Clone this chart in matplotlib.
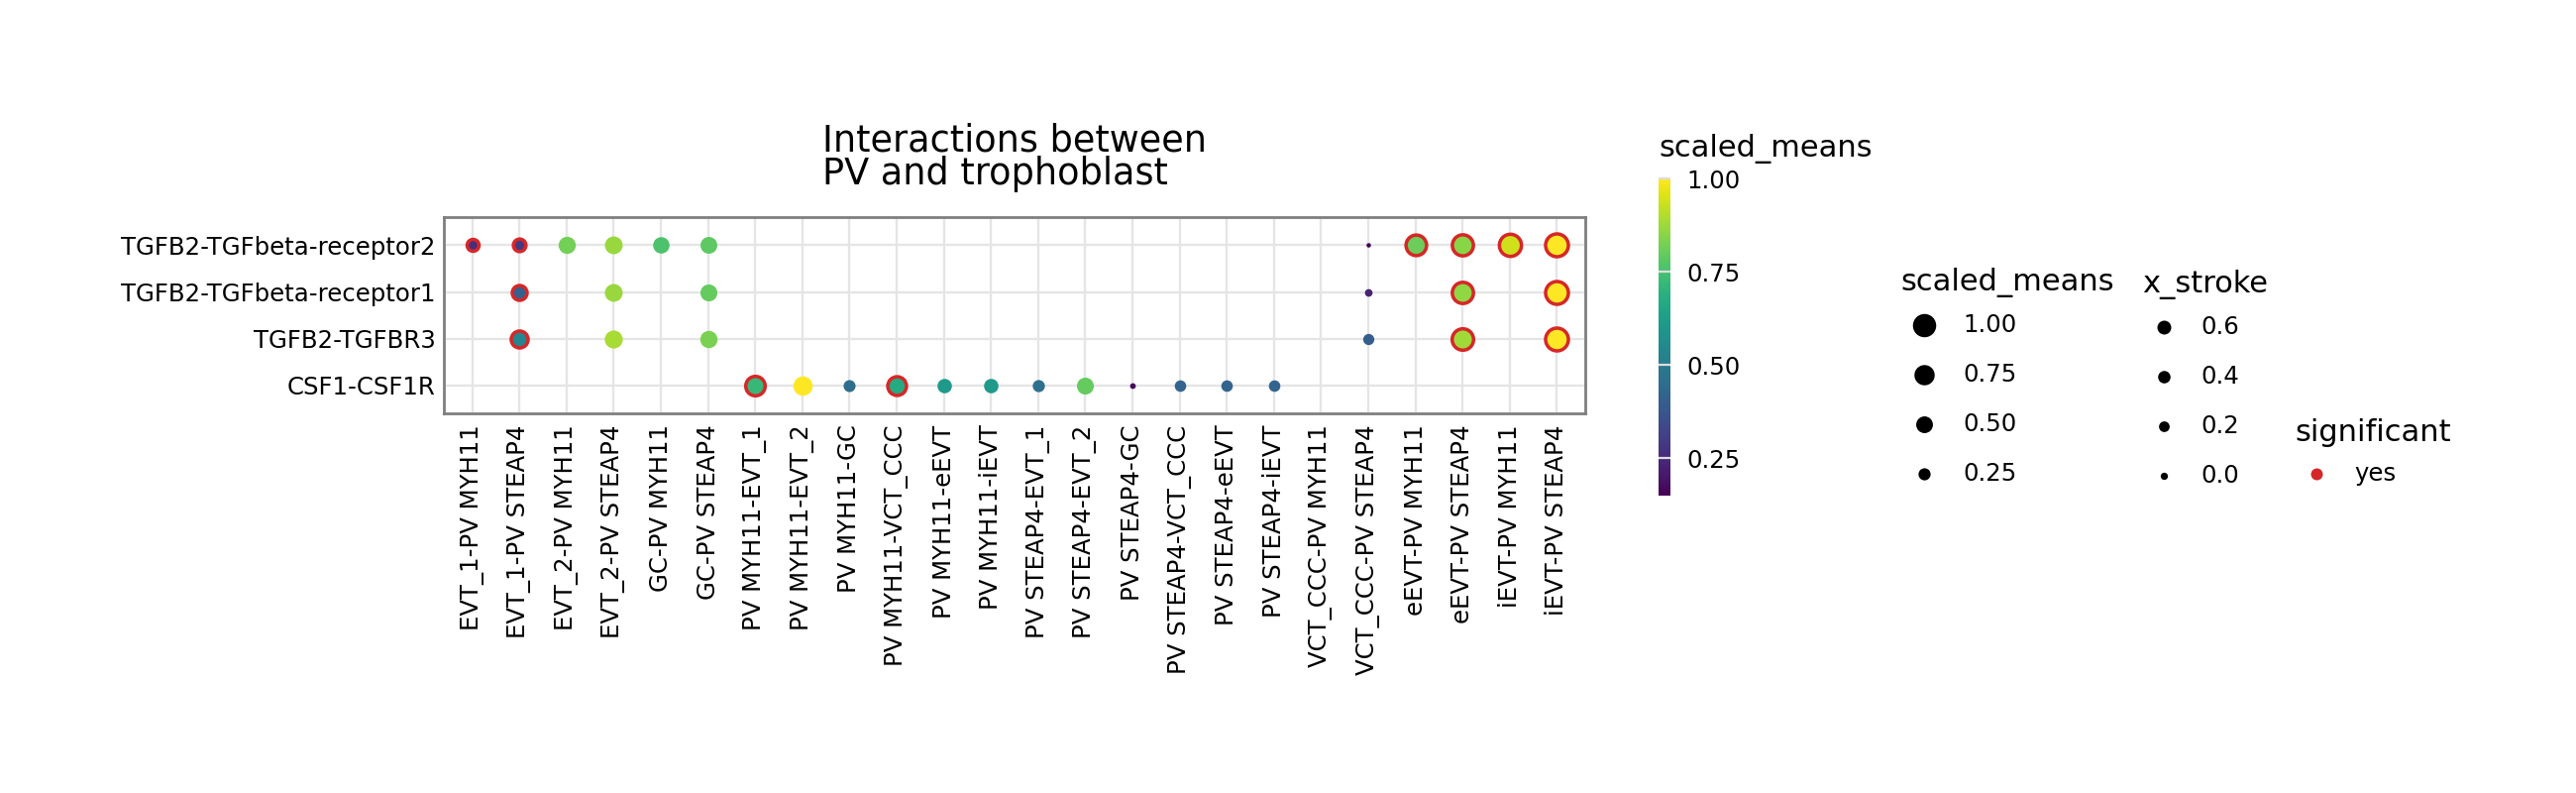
import matplotlib
matplotlib.use('Agg')
import matplotlib.pyplot as plt
from matplotlib import cm, colors

# cell-type pairs (x axis) and interactions (y axis, bottom to top)
pairs = ['EVT_1-PV MYH11', 'EVT_1-PV STEAP4', 'EVT_2-PV MYH11', 'EVT_2-PV STEAP4',
         'GC-PV MYH11', 'GC-PV STEAP4', 'PV MYH11-EVT_1', 'PV MYH11-EVT_2',
         'PV MYH11-GC', 'PV MYH11-VCT_CCC', 'PV MYH11-eEVT', 'PV MYH11-iEVT',
         'PV STEAP4-EVT_1', 'PV STEAP4-EVT_2', 'PV STEAP4-GC', 'PV STEAP4-VCT_CCC',
         'PV STEAP4-eEVT', 'PV STEAP4-iEVT', 'VCT_CCC-PV MYH11', 'VCT_CCC-PV STEAP4',
         'eEVT-PV MYH11', 'eEVT-PV STEAP4', 'iEVT-PV MYH11', 'iEVT-PV STEAP4']
interactions = ['CSF1-CSF1R', 'TGFB2-TGFBR3', 'TGFB2-TGFbeta-receptor1',
                'TGFB2-TGFbeta-receptor2']

csf1_pairs = ['PV MYH11-EVT_1', 'PV MYH11-EVT_2', 'PV MYH11-GC', 'PV MYH11-VCT_CCC',
              'PV MYH11-eEVT', 'PV MYH11-iEVT', 'PV STEAP4-EVT_1', 'PV STEAP4-EVT_2',
              'PV STEAP4-GC', 'PV STEAP4-VCT_CCC', 'PV STEAP4-eEVT', 'PV STEAP4-iEVT']
csf1_means = [0.72, 1.00, 0.45, 0.67, 0.61, 0.61, 0.46, 0.80, 0.17, 0.42, 0.42, 0.42]
csf1_sig = [1, 0, 0, 1, 0, 0, 0, 0, 0, 0, 0, 0]

tgfbr3_pairs = ['EVT_1-PV STEAP4', 'EVT_2-PV STEAP4', 'GC-PV STEAP4',
                'VCT_CCC-PV STEAP4', 'eEVT-PV STEAP4', 'iEVT-PV STEAP4']
tgfbr3_means = [0.54, 0.89, 0.83, 0.40, 0.88, 1.00]
tgfbr3_sig = [1, 0, 0, 0, 1, 1]

rec1_pairs = ['EVT_1-PV STEAP4', 'EVT_2-PV STEAP4', 'GC-PV STEAP4',
              'VCT_CCC-PV STEAP4', 'eEVT-PV STEAP4', 'iEVT-PV STEAP4']
rec1_means = [0.41, 0.87, 0.80, 0.23, 0.86, 1.00]
rec1_sig = [1, 0, 0, 0, 1, 1]

rec2_pairs = ['EVT_1-PV MYH11', 'EVT_1-PV STEAP4', 'EVT_2-PV MYH11', 'EVT_2-PV STEAP4',
              'GC-PV MYH11', 'GC-PV STEAP4', 'VCT_CCC-PV STEAP4', 'eEVT-PV MYH11',
              'eEVT-PV STEAP4', 'iEVT-PV MYH11', 'iEVT-PV STEAP4']
rec2_means = [0.26, 0.29, 0.82, 0.87, 0.76, 0.79, 0.15, 0.81, 0.85, 0.94, 1.00]
rec2_sig = [1, 1, 0, 0, 0, 0, 0, 1, 1, 1, 1]

rows = [(csf1_pairs, csf1_means, csf1_sig),
        (tgfbr3_pairs, tgfbr3_means, tgfbr3_sig),
        (rec1_pairs, rec1_means, rec1_sig),
        (rec2_pairs, rec2_means, rec2_sig)]

size_breaks = [1.00, 0.75, 0.50, 0.25]
stroke_breaks = [0.6, 0.4, 0.2, 0.0]
cbar_ticks = [0.25, 0.50, 0.75, 1.00]

RED = '#d62728'
PX = 72 / 200.0  # points per pixel
all_means = csf1_means + tgfbr3_means + rec1_means + rec2_means
vmin, vmax = min(all_means), max(all_means)
norm = colors.Normalize(vmin=vmin, vmax=vmax)
cmap = plt.get_cmap('viridis')


def diam_px(v):
    p = (v - vmin) / (vmax - vmin)
    return 4.5 + 15 * p ** 0.65


ring = 3.5

fig = plt.figure(figsize=(13, 4), dpi=200)
ax = fig.add_axes([448 / 2600, 1 - 417.3 / 800, 1152 / 2600, 198.3 / 800])

for yi, (rp, rm, rs) in enumerate(rows):
    for name, v, sig in zip(rp, rm, rs):
        x = pairs.index(name)
        d = diam_px(v)
        if sig:
            ax.scatter([x], [yi], s=((d + ring) * PX) ** 2, c=[cmap(norm(v))],
                       edgecolors=RED, linewidths=ring * PX, zorder=3)
        else:
            ax.scatter([x], [yi], s=(d * PX) ** 2, c=[cmap(norm(v))],
                       linewidths=0, zorder=3)

ax.set_xlim(-0.6, len(pairs) - 0.4)
ax.set_ylim(-0.6, len(interactions) - 0.4)
ax.set_xticks(range(len(pairs)))
ax.set_xticklabels(pairs, rotation=90)
ax.set_yticks(range(len(interactions)))
ax.set_yticklabels(interactions)
ax.tick_params(length=0, labelsize=8.8, colors='black')
ax.tick_params(axis='x', pad=4)
ax.tick_params(axis='y', pad=2.9)
ax.grid(True, color='#e5e5e5', linewidth=0.85)
ax.set_axisbelow(True)
for sp in ax.spines.values():
    sp.set_color('#7f7f7f')
    sp.set_linewidth(1.0)

fig.text(830 / 2600, 1 - 186.5 / 800, 'Interactions between\nPV and trophoblast',
         fontsize=13.2, ha='left', va='baseline', linespacing=0.9)

# colour bar
cax = fig.add_axes([1673.5 / 2600, 1 - 500 / 800, 12.5 / 2600, 320 / 800])
cb = fig.colorbar(cm.ScalarMappable(norm=norm, cmap=cmap), cax=cax, ticks=cbar_ticks)
cb.outline.set_visible(False)
cb.ax.set_yticklabels(['%.2f' % t for t in cbar_ticks])
cax.tick_params(direction='in', length=2, width=0.8, color='#dddddd',
                left=True, right=True, labelleft=False, labelright=True,
                labelsize=8.8, pad=6)
fig.text(1674.6 / 2600, 1 - 158 / 800, 'scaled_means', fontsize=11, va='baseline')

# legends
lax = fig.add_axes([0, 0, 1, 1])
lax.set_xlim(0, 2600)
lax.set_ylim(800, 0)
lax.axis('off')

row_y = [328.3, 378.3, 428.3, 478.3]
lax.text(1918.6, 293, 'scaled_means', fontsize=11, va='baseline')
for y, b in zip(row_y, size_breaks):
    lax.scatter([1941.5], [y], s=((diam_px(b) + 4) * PX) ** 2, color='black', linewidths=0)
    lax.text(1981.7, y, '%.2f' % b, fontsize=8.8, va='center')

lax.text(2162.6, 295, 'x_stroke', fontsize=11, va='baseline')
for y, b in zip(row_y, stroke_breaks):
    d = 7.3 + 6.7 * (b / 0.6) ** 0.6
    lax.scatter([2183.5], [y + 1.5], s=(d * PX) ** 2, color='black', linewidths=0)
    lax.text(2221.7, y + 1.5, '%.1f' % b, fontsize=8.8, va='center')

lax.text(2316.4, 445, 'significant', fontsize=11, va='baseline')
lax.scatter([2338.3], [478.3], s=(12 * PX) ** 2, color=RED, linewidths=0)
lax.text(2376, 478.3, 'yes', fontsize=8.8, va='center')

fig.savefig('out.png', dpi=200)
